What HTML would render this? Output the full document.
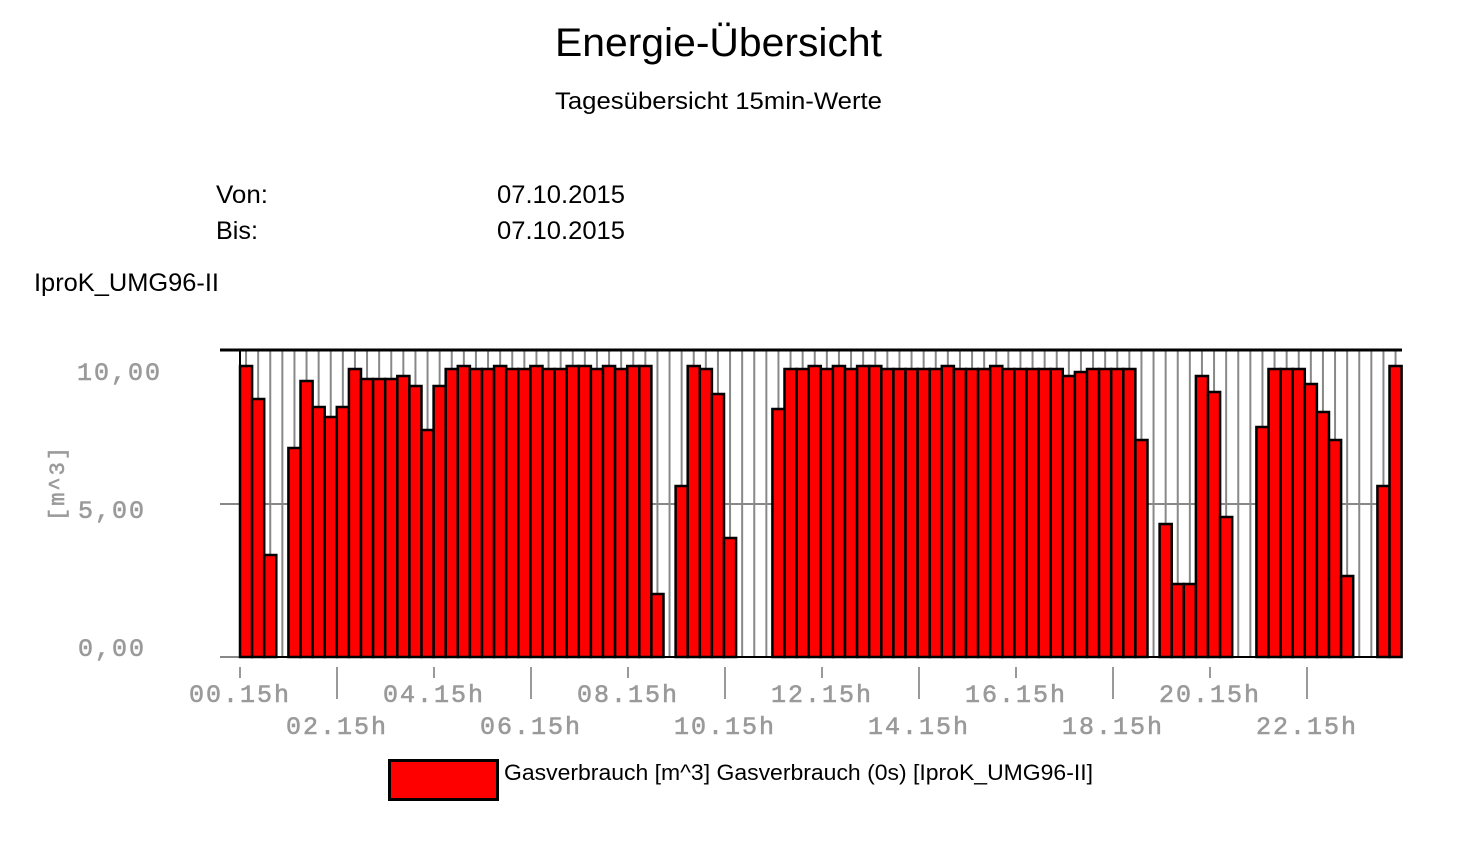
<!DOCTYPE html>
<html><head><meta charset="utf-8"><style>
body{margin:0;background:#fff;width:1458px;height:866px;overflow:hidden;}
svg{display:block}
</style></head><body>
<svg width="1458" height="866" xmlns="http://www.w3.org/2000/svg">
<g font-family="Liberation Sans, sans-serif" fill="#000">
<text x="555" y="56" font-size="40" textLength="327" lengthAdjust="spacingAndGlyphs">Energie-Übersicht</text>
<text x="555" y="109" font-size="24" textLength="327" lengthAdjust="spacingAndGlyphs">Tagesübersicht 15min-Werte</text>
<text x="216" y="203" font-size="25" textLength="52" lengthAdjust="spacingAndGlyphs">Von:</text>
<text x="497" y="203" font-size="25" textLength="128" lengthAdjust="spacingAndGlyphs">07.10.2015</text>
<text x="216" y="239" font-size="25" textLength="42" lengthAdjust="spacingAndGlyphs">Bis:</text>
<text x="497" y="239" font-size="25" textLength="128" lengthAdjust="spacingAndGlyphs">07.10.2015</text>
<text x="34" y="291" font-size="25" textLength="185" lengthAdjust="spacingAndGlyphs">IproK_UMG96-II</text>
<text x="504" y="780" font-size="22" textLength="589" lengthAdjust="spacingAndGlyphs">Gasverbrauch [m^3] Gasverbrauch (0s) [IproK_UMG96-II]</text>
</g>
<rect x="389.5" y="760.5" width="108" height="39" fill="#f00" stroke="#000" stroke-width="3"/>
<g id="grid" stroke="#888" stroke-width="2"></g>
<line x1="220" y1="504" x2="1402" y2="504" stroke="#888" stroke-width="2"/>
<line x1="220" y1="657" x2="1402" y2="657" stroke="#888" stroke-width="2"/>
<g id="bars" fill="#f00" stroke="#000" stroke-width="2.5"></g>
<line x1="220" y1="350" x2="1402" y2="350" stroke="#000" stroke-width="3"/>
<line x1="240" y1="350" x2="240" y2="657" stroke="#000" stroke-width="2"/>
<line x1="240" y1="657" x2="1402" y2="657" stroke="#000" stroke-width="2"/>
<g id="ticks" stroke="#999" stroke-width="2"></g>
<g font-family="Liberation Mono, monospace" font-size="25" fill="#9a9a9a" stroke="#9a9a9a" stroke-width="0.6" letter-spacing="2" id="lbl">
<text x="162" y="380" text-anchor="end">10,00</text>
<text x="146" y="518" text-anchor="end">5,00</text>
<text x="146" y="656" text-anchor="end">0,00</text>
<text transform="translate(64,483) rotate(-90)" text-anchor="middle" font-size="22">[m^3]</text>
</g>
<script>
var t=[366,399,555,657,448,381,407,417,407,369,379,379,379,376,386,430,386,369,366,369,369,366,369,369,366,369,369,366,366,369,366,369,366,366,594,657,486,366,369,394,538,657,657,657,409,369,369,366,369,366,369,366,366,369,369,369,369,369,366,369,369,369,366,369,369,369,369,369,376,372,369,369,369,369,440,657,524,584,584,376,392,517,657,657,427,369,369,369,384,412,440,576,657,657,486,366];
var ns="http://www.w3.org/2000/svg",w=12.1,g=document.getElementById('grid'),b=document.getElementById('bars'),tk=document.getElementById('ticks'),lb=document.getElementById('lbl');
function el(p,n,a){var e=document.createElementNS(ns,n);for(var k in a)e.setAttribute(k,a[k]);p.appendChild(e);return e;}
for(var i=0;i<96;i++){var x=240+i*w+w/2;el(g,'line',{x1:x,y1:350,x2:x,y2:657});}
for(var i=0;i<96;i++){if(t[i]<657){var x=240+i*w;el(b,'rect',{x:x.toFixed(1),y:t[i],width:w.toFixed(1),height:657-t[i]});}}
for(var k=0;k<12;k++){var x=240+k*97;el(tk,'line',{x1:x,y1:667,x2:x,y2:(k%2?699:678)});
var h=(k*2);var s=(h<10?'0':'')+h+'.15h';var e=el(lb,'text',{x:x,y:(k%2?734:702),'text-anchor':'middle'});e.textContent=s;}
</script>
</svg>
</body></html>
